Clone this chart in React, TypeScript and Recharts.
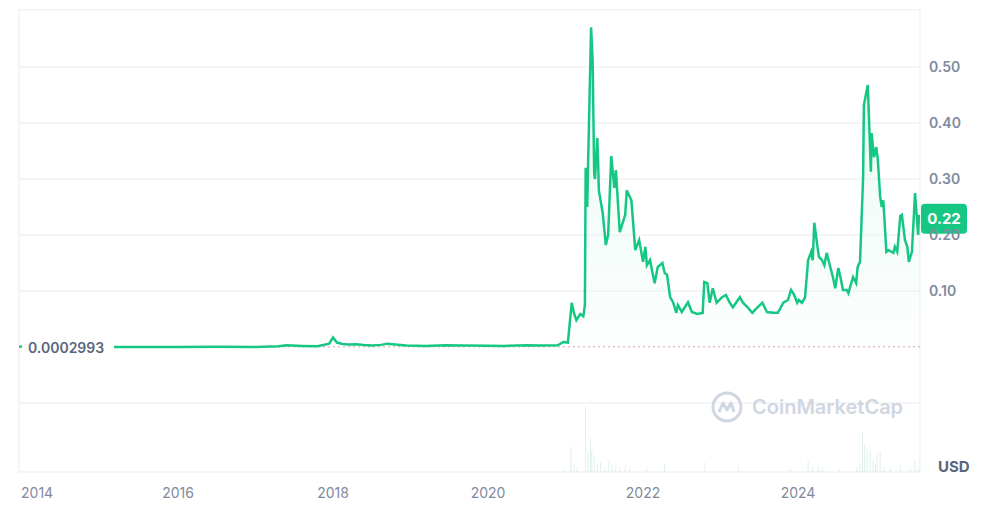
import {
  ComposedChart,
  Line,
  Area,
  Bar,
  XAxis,
  YAxis,
  ReferenceLine,
  ReferenceArea,
} from 'recharts';

// time in decimal years, price in USD
const priceDates = [
  2013.95, 2014.05, 2014.3, 2014.6, 2015.0, 2015.5, 2016.0, 2016.5, 2017.0, 2017.3,
  2017.4, 2017.6, 2017.8, 2017.95, 2018.0, 2018.05, 2018.12, 2018.2, 2018.3, 2018.4,
  2018.5, 2018.62, 2018.7, 2018.8, 2018.95, 2019.2, 2019.45, 2019.7, 2020.0, 2020.2,
  2020.5, 2020.7, 2020.9, 2020.97, 2021.03, 2021.08, 2021.11, 2021.14, 2021.19, 2021.23,
  2021.25, 2021.26, 2021.28, 2021.29, 2021.33, 2021.35, 2021.37, 2021.38, 2021.41, 2021.42,
  2021.43, 2021.48, 2021.52, 2021.55, 2021.59, 2021.63, 2021.65, 2021.7, 2021.77, 2021.79,
  2021.85, 2021.9, 2021.95, 2022.0, 2022.03, 2022.05, 2022.09, 2022.15, 2022.19, 2022.25,
  2022.28, 2022.31, 2022.35, 2022.39, 2022.43, 2022.45, 2022.5, 2022.58, 2022.63, 2022.7,
  2022.77, 2022.79, 2022.83, 2022.86, 2022.9, 2022.95, 2023.02, 2023.07, 2023.12, 2023.16,
  2023.25, 2023.29, 2023.35, 2023.41, 2023.47, 2023.54, 2023.6, 2023.68, 2023.74, 2023.81,
  2023.87, 2023.91, 2023.95, 2023.99, 2024.01, 2024.05, 2024.09, 2024.13, 2024.17, 2024.19,
  2024.21, 2024.25, 2024.27, 2024.31, 2024.34, 2024.37, 2024.41, 2024.45, 2024.48, 2024.52,
  2024.55, 2024.58, 2024.63, 2024.65, 2024.68, 2024.71, 2024.75, 2024.77, 2024.8, 2024.84,
  2024.85, 2024.9, 2024.92, 2024.94, 2024.95, 2024.98, 2025.01, 2025.03, 2025.06, 2025.08,
  2025.1, 2025.11, 2025.14, 2025.17, 2025.23, 2025.25, 2025.28, 2025.32, 2025.34, 2025.38,
  2025.41, 2025.43, 2025.47, 2025.51, 2025.55, 2025.56, 2025.57,
];
const priceValues = [
  0.0006, 0.0014, 0.0005, 0.0002, 0.0002, 0.00015, 0.0002, 0.0003, 0.0002, 0.0012,
  0.003, 0.0018, 0.0012, 0.006, 0.017, 0.008, 0.0055, 0.0045, 0.005, 0.0035,
  0.0028, 0.0038, 0.006, 0.0045, 0.0025, 0.002, 0.0032, 0.0026, 0.0022, 0.0018,
  0.003, 0.0026, 0.003, 0.009, 0.008, 0.079, 0.06, 0.048, 0.059, 0.055,
  0.075, 0.32, 0.25, 0.32, 0.571, 0.51, 0.31, 0.3, 0.373, 0.334,
  0.28, 0.239, 0.182, 0.2, 0.341, 0.284, 0.316, 0.205, 0.236, 0.28,
  0.262, 0.173, 0.191, 0.152, 0.179, 0.146, 0.155, 0.114, 0.143, 0.15,
  0.132, 0.129, 0.089, 0.079, 0.061, 0.075, 0.0625, 0.08, 0.0625, 0.059,
  0.061, 0.116, 0.114, 0.079, 0.105, 0.079, 0.089, 0.093, 0.079, 0.071,
  0.089, 0.079, 0.071, 0.061, 0.07, 0.079, 0.0625, 0.061, 0.061, 0.079,
  0.084, 0.102, 0.093, 0.079, 0.084, 0.079, 0.088, 0.155, 0.17, 0.155,
  0.222, 0.18, 0.161, 0.155, 0.146, 0.168, 0.146, 0.125, 0.105, 0.141,
  0.123, 0.102, 0.102, 0.096, 0.111, 0.125, 0.114, 0.143, 0.152, 0.304,
  0.432, 0.468, 0.393, 0.313, 0.382, 0.339, 0.357, 0.334, 0.268, 0.25,
  0.262, 0.241, 0.17, 0.173, 0.168, 0.179, 0.17, 0.234, 0.236, 0.191,
  0.179, 0.152, 0.17, 0.275, 0.2, 0.236, 0.22,
];

// trading volume, billions USD
const volumeDates = [
  2020.99, 2021.07, 2021.11, 2021.15, 2021.26, 2021.29, 2021.32, 2021.34, 2021.37, 2021.41,
  2021.45, 2021.51, 2021.56, 2021.6, 2021.65, 2021.7, 2021.77, 2021.83, 2022.05, 2022.28,
  2022.8, 2023.23, 2023.9, 2024.13, 2024.19, 2024.26, 2024.32, 2024.54, 2024.76, 2024.8,
  2024.83, 2024.86, 2024.89, 2024.93, 2024.97, 2025.0, 2025.02, 2025.06, 2025.11, 2025.19,
  2025.32, 2025.45, 2025.51, 2025.55,
];
const volumeValues = [
  2, 26, 7, 5, 68, 21, 35, 23, 16, 8,
  10, 5, 12, 8, 6, 5, 7, 4, 3, 9,
  10, 6, 3, 12, 5, 6, 4, 3, 5, 8,
  42, 28, 25, 23, 12, 8, 19, 22, 6, 3,
  7, 3, 12, 4,
];

const yearTicks = [2014, 2016, 2018, 2020, 2022, 2024];
const priceTicks = [0.1, 0.2, 0.3, 0.4, 0.5];
const gridValues = [-0.1, 0.1, 0.2, 0.3, 0.4, 0.5];
const openPrice = 0.0002993;
const lastPrice = 0.22;

const X_DOMAIN: [number, number] = [2013.948, 2025.574];
const Y_DOMAIN: [number, number] = [-0.2232, 0.6018];

const rows = [
  ...priceDates.map((t, i) => ({ t, price: priceValues[i] })),
  ...volumeDates.map((t, i) => ({ t, vol: volumeValues[i] })),
].sort((a, b) => a.t - b.t);

const GREEN = '#16c784';
const GRID = '#eff2f5';
const FONT = 'Inter, "Noto Sans", sans-serif';

const YearTick = (props: any) => {
  const { x, y, payload, index } = props;
  const first = index === 0;
  return (
    <text
      x={first ? x - 2 : x}
      y={y}
      dy={12}
      textAnchor={first ? 'start' : 'middle'}
      fill="#808a9d"
      fontSize={14}
      fontFamily={FONT}
    >
      {payload.value}
    </text>
  );
};

const OpenLabel = (props: any) => {
  const { viewBox } = props;
  return (
    <g>
      <rect x={viewBox.x + 3} y={viewBox.y - 9} width={92} height={18} fill="#fff" />
      <text
        x={viewBox.x + 9}
        y={viewBox.y + 2}
        dominantBaseline="middle"
        fill="#58667e"
        fontSize={14}
        fontWeight={600}
        fontFamily={FONT}
      >
        {openPrice.toFixed(7)}
      </text>
    </g>
  );
};

const LastLabel = (props: any) => {
  const { viewBox } = props;
  const x = viewBox.x + viewBox.width + 1;
  const y = viewBox.y - 20;
  return (
    <g>
      <rect x={x} y={y} width={46} height={30} rx={4} fill={GREEN} />
      <text
        x={x + 23}
        y={y + 16}
        textAnchor="middle"
        dominantBaseline="middle"
        fill="#fff"
        fontSize={15}
        fontWeight={700}
        fontFamily={FONT}
      >
        {lastPrice.toFixed(2)}
      </text>
    </g>
  );
};

export default function App() {
  return (
    <div style={{ position: 'relative', width: 988, height: 511, background: '#fff', fontFamily: FONT }}>
      <style>{'body{margin:0}'}</style>
      <ComposedChart
        width={988}
        height={511}
        data={rows}
        margin={{ top: 10, right: 8, left: 19, bottom: 9 }}
      >
        <defs>
          <linearGradient id="priceFill" x1="0" y1="0" x2="0" y2="1">
            <stop offset="0%" stopColor={GREEN} stopOpacity={0.16} />
            <stop offset="100%" stopColor={GREEN} stopOpacity={0.02} />
          </linearGradient>
        </defs>
        <XAxis
          dataKey="t"
          type="number"
          domain={X_DOMAIN}
          ticks={yearTicks}
          allowDataOverflow
          axisLine={false}
          tickLine={false}
          height={30}
          tick={<YearTick />}
          tickMargin={8}
        />
        <YAxis
          yAxisId="price"
          orientation="right"
          domain={Y_DOMAIN}
          ticks={priceTicks}
          allowDataOverflow
          axisLine={false}
          tickLine={false}
          width={60}
          tickMargin={3}
          tickFormatter={(v: number) => v.toFixed(2)}
          tick={{ fill: '#808a9d', fontSize: 14, fontWeight: 600, fontFamily: FONT }}
        />
        <YAxis yAxisId="vol" hide domain={[0, 480]} />
        <ReferenceArea
          yAxisId="price"
          x1={X_DOMAIN[0]}
          x2={X_DOMAIN[1]}
          y1={Y_DOMAIN[0]}
          y2={Y_DOMAIN[1]}
          fill="none"
          stroke={GRID}
          strokeWidth={1.5}
        />
        {gridValues.map((v) => (
          <ReferenceLine key={v} yAxisId="price" y={v} stroke={GRID} strokeWidth={1.5} />
        ))}
        <Bar yAxisId="vol" dataKey="vol" barSize={1} fill="#d3ebdf" isAnimationActive={false} />
        <Area
          yAxisId="price"
          dataKey="price"
          type="linear"
          baseValue={0}
          stroke="none"
          fill="url(#priceFill)"
          connectNulls
          isAnimationActive={false}
        />
        <ReferenceLine
          yAxisId="price"
          y={openPrice}
          stroke="#d9a0a6"
          strokeDasharray="2 3"
        />
        <Line
          yAxisId="price"
          dataKey="price"
          type="linear"
          stroke={GREEN}
          strokeWidth={2.5}
          dot={false}
          connectNulls
          isAnimationActive={false}
        />
        <ReferenceLine yAxisId="price" y={openPrice} stroke="none" label={<OpenLabel />} />
        <ReferenceLine yAxisId="price" y={lastPrice} stroke="none" label={<LastLabel />} />
      </ComposedChart>
      <div
        style={{
          position: 'absolute',
          left: 710,
          top: 390,
          display: 'flex',
          alignItems: 'center',
          gap: 8,
          color: '#d0d6e2',
          fontSize: 20,
          fontWeight: 600,
        }}
      >
        <svg width={34} height={34} viewBox="-17 -17 34 34">
          <circle r={14} fill="none" stroke="#d0d6e2" strokeWidth={3} />
          <path d="M -8 5 L -4 -4 L 0 3 L 4 -4 L 7 5" fill="none" stroke="#d0d6e2" strokeWidth={3} strokeLinejoin="round" />
        </svg>
        <span>CoinMarketCap</span>
      </div>
      <div
        style={{
          position: 'absolute',
          left: 938,
          top: 457,
          color: '#58667e',
          fontSize: 15,
          fontWeight: 700,
        }}
      >
        USD
      </div>
    </div>
  );
}
